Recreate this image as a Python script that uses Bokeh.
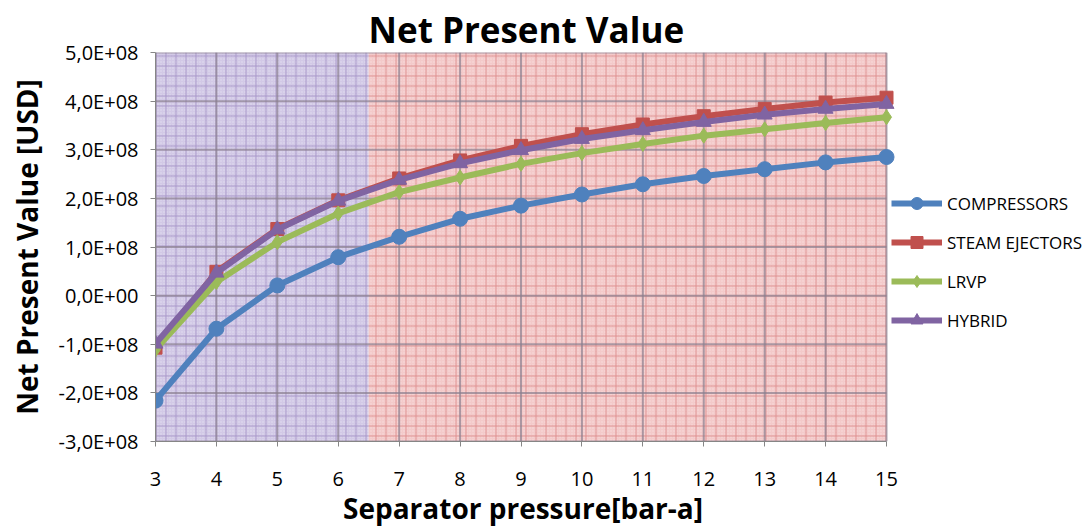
from bokeh.plotting import figure
from bokeh.models import Range1d, FixedTicker, Legend, LegendItem
from bokeh.embed import file_html
from bokeh.resources import INLINE

pressure = [3, 4, 5, 6, 7, 8, 9, 10, 11, 12, 13, 14, 15]
compressors = [-2.16e8, -0.68e8, 0.21e8, 0.79e8, 1.21e8, 1.58e8, 1.85e8, 2.08e8, 2.29e8, 2.46e8, 2.60e8, 2.74e8, 2.85e8]
steam_ejectors = [-1.07e8, 0.49e8, 1.37e8, 1.96e8, 2.41e8, 2.78e8, 3.08e8, 3.32e8, 3.52e8, 3.69e8, 3.84e8, 3.97e8, 4.07e8]
lrvp = [-1.11e8, 0.28e8, 1.10e8, 1.69e8, 2.13e8, 2.43e8, 2.71e8, 2.93e8, 3.12e8, 3.29e8, 3.42e8, 3.55e8, 3.67e8]
hybrid = [-0.99e8, 0.47e8, 1.36e8, 1.95e8, 2.38e8, 2.72e8, 2.99e8, 3.22e8, 3.40e8, 3.57e8, 3.72e8, 3.84e8, 3.94e8]

series_names = ["COMPRESSORS", "STEAM EJECTORS", "LRVP", "HYBRID"]
series_colors = ["#4F81BD", "#C0504D", "#9BBB59", "#8064A2"]
series_markers = ["circle", "square", "diamond", "triangle"]
series_sizes = [15, 13, 15, 15]

y_ticks = [-3e8, -2e8, -1e8, 0, 1e8, 2e8, 3e8, 4e8, 5e8]
y_tick_labels = ["-3,0E+08", "-2,0E+08", "-1,0E+08", "0,0E+00", "1,0E+08",
                 "2,0E+08", "3,0E+08", "4,0E+08", "5,0E+08"]

x_min, x_max = 3, 15
y_min, y_max = -3e8, 5e8
zone_left = [3, 6.5]
zone_right = [6.5, 15]
zone_fill = ["#D2C9E6", "#F3CACA"]
zone_hatch = ["#A796C9", "#DE8E8E"]

FONT = "Open Sans"

# frame extends to the right so the legend sits inside it; axis is bounded to 3..15
x_view_end = 18.283

p = figure(width=1091, height=529, output_backend="svg", toolbar_location=None,
           x_range=Range1d(x_min, x_view_end), y_range=Range1d(y_min, y_max),
           min_border_left=155, min_border_right=5, min_border_top=52,
           min_border_bottom=88, background_fill_color="white",
           border_fill_color="white", outline_line_color=None)
p.xgrid.visible = False
p.ygrid.visible = False

# shaded zones with graph-paper texture
p.quad(left=zone_left, right=zone_right, bottom=[y_min, y_min], top=[y_max, y_max],
       fill_color=zone_fill, line_color=None,
       hatch_pattern="dot", hatch_color="white", hatch_alpha=0.35, hatch_scale=3)
p.quad(left=zone_left, right=zone_right, bottom=[y_min, y_min], top=[y_max, y_max],
       fill_color=None, line_color=None,
       hatch_pattern="cross", hatch_color=zone_hatch, hatch_alpha=0.9,
       hatch_scale=10, hatch_weight=1)

# major grid lines within the plot area
grid_col = "#8A7F8F"
p.segment(x0=pressure, x1=pressure, y0=[y_min] * len(pressure), y1=[y_max] * len(pressure),
          line_color=grid_col, line_width=2, line_alpha=0.7)
p.segment(x0=[x_min] * len(y_ticks), x1=[x_max] * len(y_ticks), y0=y_ticks, y1=y_ticks,
          line_color=grid_col, line_width=2, line_alpha=0.7)

items = []
for name, vals, col, mk, sz in zip(series_names,
                                   [compressors, steam_ejectors, lrvp, hybrid],
                                   series_colors, series_markers, series_sizes):
    r1 = p.line(pressure, vals, line_color=col, line_width=6)
    r2 = p.scatter(pressure, vals, marker=mk, size=sz, fill_color=col, line_color=col)
    items.append(LegendItem(label=name, renderers=[r1, r2]))

legend = Legend(items=items, location=(736, 106), orientation="vertical",
                background_fill_alpha=0, border_line_color=None,
                margin=0, padding=0, spacing=9, glyph_width=51, glyph_height=30,
                label_height=20, label_standoff=5,
                label_text_font=FONT, label_text_font_size="17px",
                label_text_color="black")
p.add_layout(legend, "center")

# axes
p.xaxis.ticker = FixedTicker(ticks=pressure)
p.xaxis.bounds = (x_min, x_max)
p.yaxis.ticker = FixedTicker(ticks=y_ticks)
p.yaxis.major_label_overrides = {t: l for t, l in zip(y_ticks, y_tick_labels)}
for ax in (p.xaxis[0], p.yaxis[0]):
    ax.axis_line_color = "#868686"
    ax.major_tick_line_color = "#868686"
    ax.major_tick_in = 0
    ax.major_tick_out = 5
    ax.minor_tick_line_color = None
    ax.major_label_text_font = FONT
    ax.major_label_text_font_size = "20px"
    ax.major_label_text_color = "black"
    ax.axis_label_text_font = FONT
    ax.axis_label_text_font_style = "bold"
    ax.axis_label_text_font_size = "28px"
    ax.axis_label_text_color = "black"

p.xaxis.major_label_standoff = 25
# trailing em spaces shift the centred title left, over the 3..15 axis
p.xaxis.axis_label = "Separator pressure[bar-a]" + "\u2003" * 7
p.xaxis.axis_label_standoff = 0
p.yaxis.major_label_standoff = 12
p.yaxis.axis_label = "Net Present Value [USD]"
p.yaxis.axis_label_standoff = 10

p.title.text = "Net Present Value"
p.title.align = "left"
p.title.text_font = FONT
p.title.text_font_style = "bold"
p.title.text_font_size = "35px"
p.title.text_color = "black"
p.title.offset = 213
p.title.standoff = 0

open("out.html", "w").write(file_html(p, INLINE))
